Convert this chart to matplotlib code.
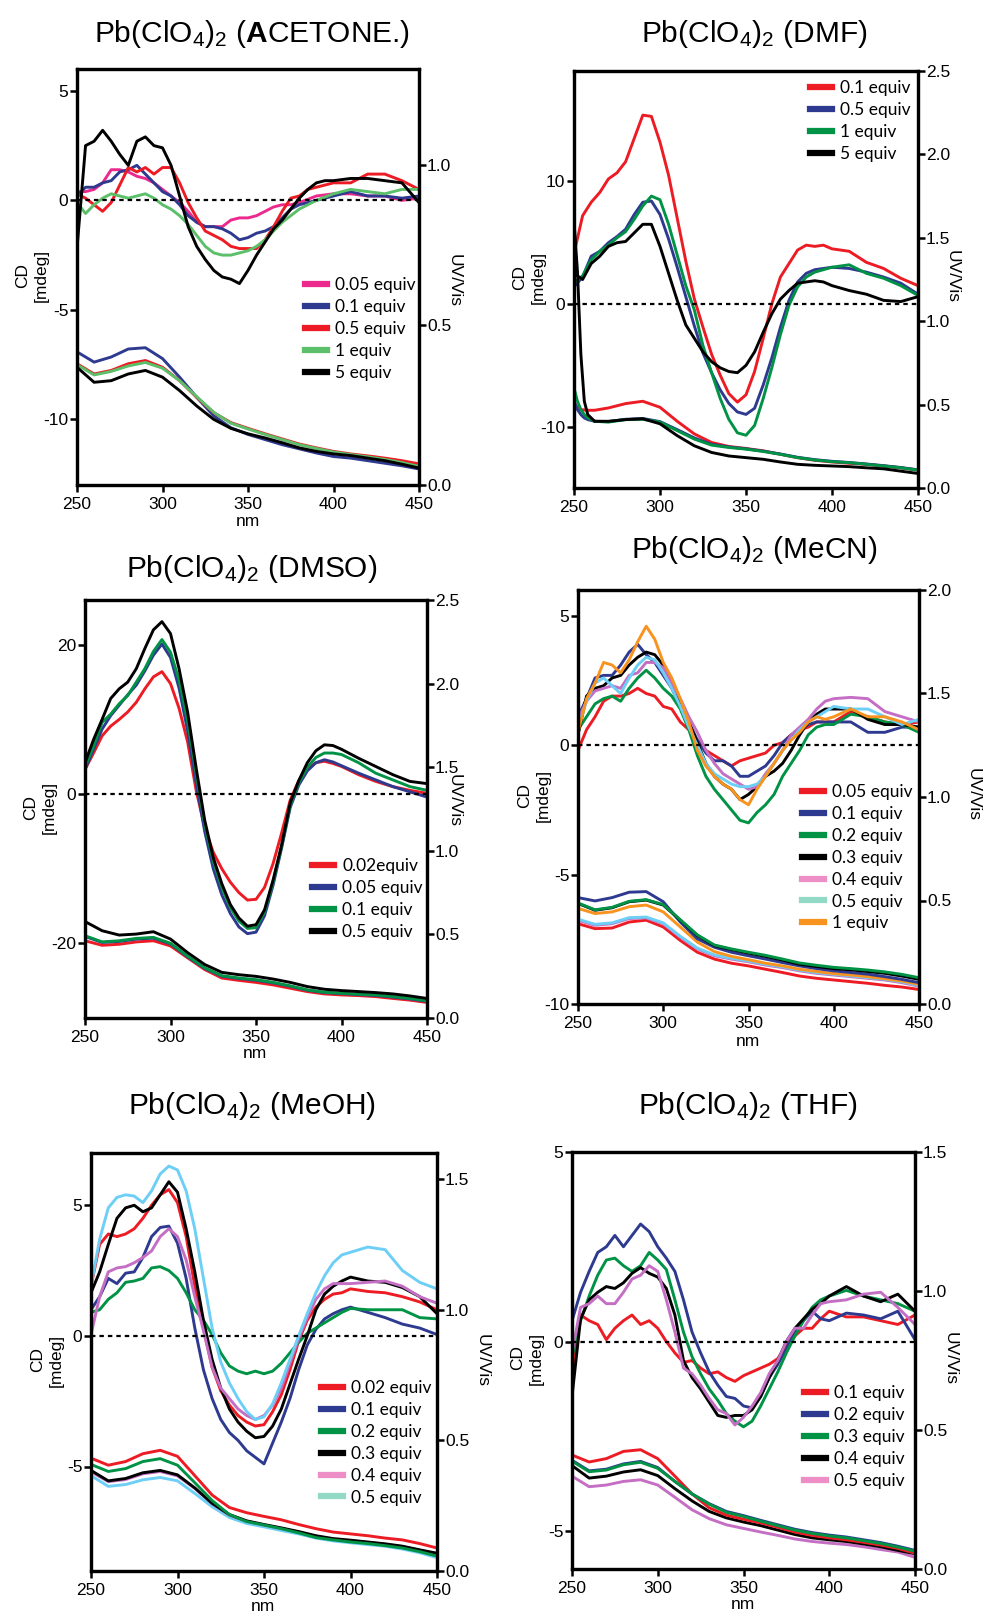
import matplotlib
matplotlib.use('Agg')
import matplotlib.pyplot as plt
from matplotlib.lines import Line2D
from matplotlib.ticker import FormatStrFormatter

plt.rcParams['font.family'] = ['Liberation Sans', 'DejaVu Sans']
plt.rcParams['mathtext.fontset'] = 'custom'
plt.rcParams['mathtext.rm'] = 'Liberation Sans'
plt.rcParams['mathtext.it'] = 'Liberation Sans'
plt.rcParams['mathtext.bf'] = 'Liberation Sans:bold'
plt.rcParams['axes.unicode_minus'] = False

# ---------------- wavelength grids ----------------
WL_CD = [250, 255, 260, 265, 270, 275, 280, 285, 290, 295,
         300, 305, 310, 315, 320, 325, 330, 335, 340, 345,
         350, 355, 360, 365, 370, 375, 380, 385, 390, 395, 400,
         410, 420, 430, 440, 450]
WL_UV = [250, 260, 270, 280, 290, 300, 310, 320, 330, 340, 350,
         360, 370, 380, 390, 400, 410, 420, 430, 440, 450]
WL_UV_DMF = [250, 252, 254, 256, 258, 262, 270, 280, 290, 300, 310, 320,
             330, 340, 350, 360, 370, 380, 390, 400, 410, 420, 430, 440, 450]
X_TICKS = [250, 300, 350, 400, 450]

# ---------------- ACETONE ----------------
ace_labels = ['0.05 equiv', '0.1 equiv', '0.5 equiv', '1 equiv', '5 equiv']
ace_cd_005 = [0.4, 0.4, 0.5, 0.8, 1.4, 1.4, 1.3, 1.1, 1.0, 0.8,
              0.5, 0.2, -0.1, -0.5, -1.0, -1.2, -1.2, -1.2, -0.9, -0.8,
              -0.8, -0.7, -0.5, -0.3, -0.2, -0.2, -0.1, 0.05, 0.2, 0.25, 0.3,
              0.3, 0.2, 0.2, 0.0, 0.1]
ace_cd_01 = [0.2, 0.6, 0.6, 0.8, 0.9, 1.3, 1.4, 1.6, 1.2, 0.8,
             0.4, 0.2, -0.2, -0.7, -1.0, -1.2, -1.2, -1.3, -1.5, -1.8,
             -1.7, -1.5, -1.4, -1.2, -0.8, -0.4, -0.2, -0.1, 0.0, 0.1, 0.2,
             0.4, 0.2, 0.2, 0.1, 0.2]
ace_cd_05 = [0.3, 0.1, -0.2, -0.5, -0.1, 0.7, 1.5, 1.3, 1.5, 1.2,
             1.5, 1.5, 0.8, -0.1, -0.8, -1.4, -1.6, -1.8, -2.1, -2.2,
             -2.2, -2.2, -1.8, -1.2, -0.5, 0.1, 0.2, 0.5, 0.6, 0.7, 0.8,
             0.8, 1.2, 1.2, 0.9, 0.5]
ace_cd_1 = [-0.1, -0.6, -0.2, 0.1, 0.3, 0.2, 0.1, 0.2, 0.3, 0.1,
            -0.2, -0.4, -0.7, -1.1, -1.6, -2.1, -2.4, -2.5, -2.5, -2.4,
            -2.3, -2.1, -1.8, -1.4, -1.0, -0.7, -0.4, -0.2, 0.0, 0.15, 0.3,
            0.5, 0.4, 0.3, 0.5, 0.5]
ace_cd_5 = [-2.2, 2.5, 2.7, 3.2, 2.7, 2.1, 1.6, 2.7, 2.9, 2.5,
            2.4, 1.6, 0.2, -1.2, -2.1, -2.7, -3.2, -3.5, -3.6, -3.8,
            -3.2, -2.5, -1.9, -1.3, -0.9, -0.4, 0.1, 0.5, 0.8, 0.9, 0.9,
            1.0, 1.0, 0.9, 0.8, -0.1]
ace_uv_01 = [0.416, 0.384, 0.40, 0.425, 0.429, 0.395, 0.337, 0.274, 0.216, 0.179, 0.158,
             0.142, 0.126, 0.113, 0.10, 0.089, 0.084, 0.076, 0.068, 0.06, 0.05]
ace_uv_05 = [0.379, 0.347, 0.358, 0.379, 0.389, 0.368, 0.326, 0.274, 0.226, 0.195, 0.177,
             0.16, 0.144, 0.128, 0.116, 0.105, 0.097, 0.091, 0.084, 0.076, 0.066]
ace_uv_1 = [0.376, 0.344, 0.355, 0.372, 0.383, 0.365, 0.326, 0.276, 0.227, 0.193, 0.175,
            0.158, 0.142, 0.126, 0.114, 0.103, 0.095, 0.088, 0.08, 0.07, 0.058]
ace_uv_5 = [0.368, 0.321, 0.326, 0.347, 0.358, 0.337, 0.295, 0.247, 0.205, 0.177, 0.16,
            0.147, 0.132, 0.116, 0.105, 0.097, 0.092, 0.084, 0.076, 0.065, 0.053]

# ---------------- DMF ----------------
dmf_labels = ['0.1 equiv', '0.5 equiv', '1 equiv', '5 equiv']
dmf_cd_01 = [4.1, 7.2, 8.3, 9.1, 10.2, 10.7, 11.6, 13.5, 15.4, 15.3,
             13.2, 10.5, 7.0, 3.5, 0.4, -1.9, -4.1, -5.8, -7.3, -8.0,
             -7.4, -5.5, -2.8, 0.0, 2.2, 3.3, 4.4, 4.8, 4.7, 4.8, 4.5,
             4.3, 3.4, 2.9, 2.1, 1.5]
dmf_cd_05 = [1.4, 2.2, 3.9, 4.3, 5.0, 5.5, 6.1, 7.3, 8.3, 8.4,
             7.3, 5.3, 3.0, 0.6, -1.8, -4.0, -5.6, -7.0, -8.1, -8.8,
             -9.0, -8.5, -6.6, -4.4, -1.9, 0.3, 1.8, 2.5, 2.8, 2.9, 3.0,
             2.9, 2.6, 2.2, 1.7, 0.8]
dmf_cd_1 = [1.7, 2.3, 3.6, 4.3, 4.8, 5.4, 5.9, 6.9, 8.0, 8.8,
            8.5, 6.5, 4.0, 1.5, -0.5, -3.4, -5.6, -7.7, -9.4, -10.5,
            -10.7, -9.9, -7.7, -5.2, -2.5, -0.1, 1.4, 2.2, 2.6, 2.8, 3.0,
            3.2, 2.5, 2.1, 1.5, 0.7]
dmf_cd_5 = [2.5, 2.0, 3.3, 3.9, 4.7, 5.0, 5.1, 5.8, 6.5, 6.5,
            4.7, 2.5, 0.3, -1.7, -2.8, -3.9, -4.7, -5.2, -5.5, -5.6,
            -5.0, -3.9, -2.3, -0.8, 0.4, 1.1, 1.7, 1.8, 1.9, 1.8, 1.5,
            1.1, 0.8, 0.3, 0.2, 0.6]
dmf_uv_01 = [0.516, 0.48, 0.47, 0.468, 0.466, 0.466, 0.48, 0.506, 0.52, 0.484, 0.40, 0.324,
             0.273, 0.249, 0.237, 0.223, 0.202, 0.182, 0.166, 0.156, 0.148, 0.142, 0.132, 0.121, 0.107]
dmf_uv_05 = [0.52, 0.47, 0.44, 0.42, 0.41, 0.40, 0.398, 0.412, 0.417, 0.398, 0.35, 0.30,
             0.262, 0.246, 0.235, 0.221, 0.204, 0.184, 0.17, 0.16, 0.153, 0.144, 0.134, 0.123, 0.109]
dmf_uv_1 = [0.60, 0.52, 0.47, 0.44, 0.42, 0.40, 0.395, 0.41, 0.412, 0.395, 0.344, 0.293,
            0.257, 0.243, 0.233, 0.219, 0.202, 0.182, 0.168, 0.158, 0.152, 0.142, 0.132, 0.121, 0.107]
dmf_uv_5 = [1.60, 1.30, 0.80, 0.52, 0.44, 0.40, 0.40, 0.41, 0.415, 0.385, 0.314, 0.253,
            0.213, 0.192, 0.182, 0.172, 0.156, 0.142, 0.136, 0.132, 0.128, 0.121, 0.115, 0.101, 0.087]

# ---------------- DMSO ----------------
dmso_labels = ['0.02equiv', '0.05 equiv', '0.1 equiv', '0.5 equiv']
dmso_cd_002 = [3.3, 5.5, 7.8, 9.1, 10.0, 11.0, 12.3, 14.1, 15.7, 16.4,
               14.8, 11.5, 7.0, 0.5, -4.5, -7.8, -10.0, -11.8, -13.2, -14.2,
               -14.1, -12.5, -9.3, -5.2, -0.8, 1.8, 3.4, 4.2, 4.4, 4.1, 3.7,
               2.6, 1.7, 1.0, 0.5, 0.1]
dmso_cd_005 = [3.3, 6.0, 8.7, 10.5, 11.9, 13.3, 14.6, 16.5, 18.6, 20.1,
               18.3, 14.2, 8.5, 1.5, -5.0, -10.0, -13.5, -16.0, -17.8, -18.7,
               -18.5, -16.3, -12.2, -7.2, -1.8, 1.2, 3.1, 4.2, 4.6, 4.3, 3.8,
               2.8, 1.9, 1.0, 0.3, -0.4]
dmso_cd_01 = [3.7, 6.4, 9.6, 10.7, 12.1, 13.2, 15.0, 16.8, 19.1, 20.7,
              19.0, 15.3, 9.8, 2.8, -4.0, -9.0, -12.5, -15.2, -17.0, -18.0,
              -17.9, -15.8, -11.8, -7.0, -1.5, 1.5, 3.6, 4.9, 5.5, 5.5, 5.3,
              4.2, 2.8, 1.9, 1.0, 0.5]
dmso_cd_05 = [4.2, 7.3, 10.0, 12.8, 14.1, 15.0, 16.8, 19.5, 22.0, 23.1,
              21.5, 16.8, 11.0, 3.5, -3.5, -8.5, -12.0, -14.8, -16.6, -17.7,
              -17.5, -15.5, -11.5, -6.8, -1.2, 1.8, 4.2, 5.8, 6.6, 6.5, 6.0,
              4.8, 3.7, 2.6, 1.7, 1.4]
dmso_uv_002 = [0.462, 0.435, 0.441, 0.455, 0.462, 0.431, 0.36, 0.29, 0.239, 0.225, 0.213,
               0.198, 0.178, 0.158, 0.144, 0.138, 0.134, 0.128, 0.117, 0.107, 0.093]
dmso_uv_005 = [0.488, 0.452, 0.458, 0.472, 0.478, 0.443, 0.366, 0.297, 0.25, 0.236, 0.226,
               0.21, 0.19, 0.166, 0.152, 0.146, 0.14, 0.135, 0.125, 0.114, 0.10]
dmso_uv_01 = [0.492, 0.455, 0.462, 0.476, 0.482, 0.447, 0.37, 0.30, 0.253, 0.239, 0.229,
              0.213, 0.192, 0.168, 0.154, 0.148, 0.142, 0.138, 0.128, 0.117, 0.103]
dmso_uv_05 = [0.577, 0.522, 0.496, 0.502, 0.516, 0.472, 0.391, 0.32, 0.273, 0.259, 0.249,
              0.233, 0.213, 0.188, 0.172, 0.164, 0.158, 0.152, 0.144, 0.132, 0.117]

# ---------------- MeCN ----------------
mecn_labels = ['0.05 equiv', '0.1 equiv', '0.2 equiv', '0.3 equiv', '0.4 equiv', '0.5 equiv', '1 equiv']
mecn_cd_005 = [-0.2, 0.6, 1.1, 1.7, 1.9, 1.9, 2.0, 2.2, 2.0, 1.9,
               1.5, 1.4, 0.9, 0.6, 0.2, -0.2, -0.4, -0.6, -0.8, -0.6,
               -0.5, -0.4, -0.3, 0.0, 0.1, 0.4, 0.6, 0.7, 0.9, 0.9, 0.9,
               1.3, 1.1, 0.9, 0.8, 0.9]
mecn_cd_01 = [1.1, 1.8, 2.6, 2.7, 2.7, 3.1, 3.6, 3.9, 3.5, 3.2,
              2.7, 2.2, 1.5, 0.9, 0.2, -0.3, -0.6, -0.6, -0.8, -1.2,
              -1.2, -1.0, -0.8, -0.4, 0.1, 0.4, 0.6, 0.8, 0.9, 0.9, 0.9,
              0.9, 0.5, 0.5, 0.7, 0.7]
mecn_cd_02 = [0.6, 1.1, 1.6, 1.8, 1.9, 1.7, 2.2, 2.6, 2.9, 2.6,
              2.2, 1.9, 1.4, 0.6, -0.4, -1.2, -1.7, -2.1, -2.5, -2.9,
              -3.0, -2.6, -2.3, -1.9, -1.2, -0.7, -0.2, 0.4, 0.7, 0.8, 0.8,
              1.2, 1.1, 0.9, 0.8, 0.5]
mecn_cd_03 = [0.4, 1.9, 2.2, 2.3, 2.6, 2.7, 3.1, 3.4, 3.6, 3.5,
              3.1, 2.5, 1.7, 0.9, 0.1, -0.7, -1.2, -1.5, -1.7, -2.1,
              -1.9, -1.6, -1.2, -1.0, -0.7, -0.2, 0.4, 0.9, 1.2, 1.4, 1.4,
              1.4, 1.0, 0.8, 0.8, 0.7]
mecn_cd_04 = [1.0, 1.7, 2.1, 2.2, 2.3, 2.2, 2.7, 2.8, 3.2, 3.2,
              3.0, 2.4, 1.8, 1.1, 0.5, -0.2, -0.7, -1.1, -1.3, -1.5,
              -1.7, -1.6, -1.1, -0.7, -0.2, 0.4, 0.7, 1.0, 1.4, 1.7, 1.8,
              1.85, 1.8, 1.3, 1.1, 0.9]
mecn_cd_05 = [0.7, 1.7, 2.4, 2.6, 2.3, 2.0, 2.6, 3.1, 3.4, 3.3,
              2.8, 2.2, 1.5, 0.7, 0.0, -0.7, -1.1, -1.3, -1.5, -1.6,
              -1.6, -1.5, -1.2, -0.7, -0.2, 0.2, 0.6, 0.9, 1.1, 1.3, 1.5,
              1.4, 1.4, 1.1, 0.8, 1.0]
mecn_cd_1 = [0.5, 1.8, 2.4, 3.2, 3.1, 2.8, 3.3, 4.0, 4.6, 4.1,
             3.2, 2.6, 1.8, 0.9, -0.2, -0.8, -1.2, -1.5, -1.7, -2.1,
             -2.3, -1.7, -1.2, -0.7, -0.2, 0.2, 0.5, 0.9, 1.1, 1.0, 1.1,
             1.4, 1.1, 1.1, 0.9, 0.6]
mecn_uv_005 = [0.388, 0.364, 0.367, 0.396, 0.405, 0.372, 0.307, 0.25, 0.217, 0.197, 0.184,
               0.168, 0.152, 0.135, 0.124, 0.116, 0.108, 0.10, 0.09, 0.082, 0.07]
mecn_uv_01 = [0.514, 0.498, 0.514, 0.54, 0.543, 0.494, 0.396, 0.315, 0.274, 0.25, 0.233,
              0.217, 0.20, 0.184, 0.171, 0.16, 0.152, 0.144, 0.132, 0.119, 0.103]
mecn_uv_02 = [0.488, 0.455, 0.467, 0.496, 0.504, 0.48, 0.407, 0.334, 0.285, 0.266, 0.25,
              0.235, 0.217, 0.198, 0.187, 0.177, 0.171, 0.164, 0.155, 0.143, 0.127]
mecn_uv_03 = [0.486, 0.453, 0.465, 0.494, 0.502, 0.478, 0.405, 0.331, 0.282, 0.263, 0.246,
              0.23, 0.212, 0.192, 0.181, 0.171, 0.165, 0.157, 0.148, 0.135, 0.119]
mecn_uv_04 = [0.405, 0.38, 0.388, 0.413, 0.416, 0.388, 0.323, 0.266, 0.233, 0.217, 0.204,
              0.188, 0.176, 0.16, 0.148, 0.14, 0.132, 0.124, 0.116, 0.103, 0.086]
mecn_uv_05 = [0.41, 0.385, 0.392, 0.417, 0.42, 0.392, 0.327, 0.27, 0.237, 0.221, 0.208,
              0.192, 0.18, 0.164, 0.152, 0.144, 0.136, 0.128, 0.12, 0.107, 0.09]
mecn_uv_1 = [0.462, 0.437, 0.445, 0.47, 0.478, 0.445, 0.372, 0.299, 0.253, 0.23, 0.214,
             0.197, 0.184, 0.168, 0.157, 0.147, 0.14, 0.132, 0.122, 0.111, 0.095]

# ---------------- MeOH ----------------
meoh_labels = ['0.02 equiv', '0.1 equiv', '0.2 equiv', '0.3 equiv', '0.4 equiv', '0.5 equiv']
meoh_cd_002 = [1.9, 3.5, 3.9, 3.8, 3.9, 4.1, 4.5, 5.0, 5.4, 5.6,
               5.1, 3.8, 1.9, 0.3, -1.2, -2.1, -2.65, -3.05, -3.3, -3.45,
               -3.4, -2.9, -2.25, -1.3, -0.2, 0.6, 1.1, 1.4, 1.6, 1.65, 1.8,
               1.7, 1.65, 1.5, 1.3, 1.0]
meoh_cd_01 = [1.0, 1.5, 2.2, 2.0, 2.4, 2.45, 3.0, 3.8, 4.15, 4.2,
              3.55, 2.2, 0.3, -1.3, -2.4, -3.2, -3.7, -4.0, -4.4, -4.65,
              -4.9, -4.1, -3.3, -2.4, -1.3, -0.35, 0.25, 0.65, 0.85, 1.0, 1.1,
              0.9, 0.7, 0.45, 0.3, 0.05]
meoh_cd_02 = [0.9, 1.0, 1.4, 1.65, 2.05, 2.1, 2.2, 2.6, 2.65, 2.5,
              2.2, 1.65, 1.0, 0.6, 0.05, -0.65, -1.15, -1.35, -1.45, -1.35,
              -1.45, -1.35, -1.05, -0.65, -0.25, 0.1, 0.3, 0.5, 0.7, 0.9, 1.05,
              1.0, 1.0, 1.0, 0.7, 0.65]
meoh_cd_03 = [1.65, 2.45, 3.5, 4.5, 4.9, 5.0, 4.75, 4.9, 5.4, 5.9,
              5.5, 4.1, 2.45, 0.6, -0.9, -2.0, -2.8, -3.3, -3.65, -3.9,
              -3.85, -3.45, -2.8, -1.85, -0.9, 0.0, 1.0, 1.6, 1.9, 2.1, 2.25,
              2.1, 2.05, 1.85, 1.5, 0.85]
meoh_cd_04 = [0.05, 1.5, 2.45, 2.6, 2.65, 2.8, 3.0, 3.25, 3.8, 4.1,
              3.8, 2.9, 1.5, 0.2, -1.2, -2.0, -2.4, -2.8, -3.05, -3.2,
              -3.05, -2.65, -2.0, -1.05, -0.1, 0.7, 1.4, 1.8, 2.0, 2.0, 2.0,
              2.05, 2.1, 1.9, 1.5, 1.25]
meoh_cd_05 = [1.9, 3.7, 4.9, 5.3, 5.4, 5.35, 5.1, 5.55, 6.2, 6.5,
              6.35, 5.55, 4.1, 2.2, 0.3, -1.0, -1.8, -2.4, -2.9, -3.2,
              -3.1, -2.6, -1.8, -0.9, 0.0, 0.85, 1.65, 2.3, 2.8, 3.1, 3.2,
              3.4, 3.3, 2.5, 2.05, 1.8]
meoh_uv_002 = [0.432, 0.405, 0.419, 0.449, 0.462, 0.439, 0.365, 0.291, 0.243, 0.223, 0.209,
               0.196, 0.178, 0.162, 0.149, 0.142, 0.135, 0.126, 0.119, 0.105, 0.088]
meoh_uv_02 = [0.408, 0.381, 0.392, 0.419, 0.43, 0.405, 0.338, 0.27, 0.216, 0.189, 0.176,
              0.162, 0.146, 0.128, 0.119, 0.111, 0.105, 0.097, 0.088, 0.074, 0.057]
meoh_uv_03 = [0.385, 0.345, 0.354, 0.376, 0.385, 0.368, 0.318, 0.259, 0.216, 0.192, 0.178,
              0.165, 0.151, 0.135, 0.124, 0.118, 0.111, 0.104, 0.095, 0.081, 0.068]
meoh_uv_04 = [0.38, 0.342, 0.35, 0.372, 0.381, 0.364, 0.316, 0.258, 0.214, 0.19, 0.176,
              0.163, 0.149, 0.133, 0.122, 0.116, 0.109, 0.102, 0.093, 0.079, 0.064]
meoh_uv_05 = [0.365, 0.324, 0.331, 0.349, 0.358, 0.345, 0.297, 0.246, 0.205, 0.182, 0.169,
              0.155, 0.142, 0.126, 0.115, 0.108, 0.101, 0.095, 0.084, 0.07, 0.051]

# ---------------- THF ----------------
thf_labels = ['0.1 equiv', '0.2 equiv', '0.3 equiv', '0.4 equiv', '0.5 equiv']
thf_cd_01 = [-0.85, 0.7, 0.55, 0.45, 0.05, 0.35, 0.55, 0.7, 0.45, 0.55,
             0.35, 0.0, -0.3, -0.55, -0.5, -0.7, -0.85, -0.8, -0.95, -1.05,
             -0.9, -0.8, -0.7, -0.6, -0.45, -0.1, 0.15, 0.35, 0.35, 0.6, 0.8,
             0.65, 0.65, 0.55, 0.45, 0.7]
thf_cd_02 = [0.55, 1.3, 1.85, 2.35, 2.5, 2.8, 2.5, 2.8, 3.1, 2.9,
             2.5, 2.2, 1.85, 1.1, 0.25, -0.3, -0.8, -1.15, -1.45, -1.5,
             -1.7, -1.75, -1.45, -0.95, -0.6, -0.2, 0.25, 0.55, 0.8, 0.6, 0.55,
             0.75, 0.7, 0.6, 0.8, 0.05]
thf_cd_03 = [-0.4, 0.55, 1.2, 1.75, 2.15, 2.2, 2.0, 1.85, 2.0, 2.35,
             2.15, 1.9, 1.1, 0.25, -0.4, -0.85, -1.25, -1.55, -1.9, -2.1,
             -2.25, -2.1, -1.7, -1.25, -0.8, -0.3, 0.15, 0.55, 0.9, 1.1, 1.2,
             1.35, 1.2, 1.1, 1.0, 0.8]
thf_cd_04 = [-1.45, 0.6, 1.1, 1.3, 1.45, 1.4, 1.55, 1.8, 1.95, 1.8,
             1.7, 1.4, 0.7, -0.5, -0.95, -1.25, -1.6, -1.95, -2.0, -1.95,
             -1.95, -1.8, -1.45, -0.95, -0.5, 0.0, 0.35, 0.6, 0.85, 1.0, 1.2,
             1.45, 1.2, 1.05, 1.25, 0.8]
thf_cd_05 = [-0.3, 0.9, 1.0, 1.2, 1.0, 1.0, 1.3, 1.65, 1.75, 2.0,
             1.85, 1.1, 0.25, -0.7, -0.85, -1.15, -1.5, -1.8, -1.9, -2.2,
             -2.0, -1.7, -1.35, -0.85, -0.5, 0.0, 0.35, 0.35, 0.7, 1.0, 1.05,
             1.1, 1.25, 1.3, 0.9, 0.45]
thf_uv_01 = [0.41, 0.385, 0.397, 0.423, 0.429, 0.397, 0.334, 0.27, 0.22, 0.194, 0.179,
             0.166, 0.15, 0.133, 0.121, 0.112, 0.105, 0.096, 0.086, 0.074, 0.057]
thf_uv_02 = [0.391, 0.353, 0.359, 0.378, 0.387, 0.365, 0.315, 0.27, 0.235, 0.207, 0.192,
             0.175, 0.159, 0.143, 0.131, 0.122, 0.115, 0.105, 0.095, 0.082, 0.067]
thf_uv_03 = [0.388, 0.35, 0.356, 0.375, 0.384, 0.362, 0.315, 0.27, 0.233, 0.204, 0.189,
             0.172, 0.156, 0.14, 0.128, 0.119, 0.112, 0.102, 0.092, 0.079, 0.064]
thf_uv_04 = [0.372, 0.327, 0.334, 0.349, 0.357, 0.336, 0.289, 0.245, 0.207, 0.184, 0.169,
             0.156, 0.14, 0.124, 0.112, 0.105, 0.099, 0.09, 0.08, 0.067, 0.055]
thf_uv_05 = [0.334, 0.296, 0.302, 0.315, 0.321, 0.302, 0.258, 0.213, 0.181, 0.159, 0.146,
             0.133, 0.121, 0.108, 0.099, 0.093, 0.088, 0.08, 0.07, 0.061, 0.042]

# ---------------- colours ----------------
RED = '#ed1c24'
BLUE = '#2e3a8f'
GREEN = '#009245'
LGREEN = '#5cbf6a'
PINK = '#ec2a8e'
BLACK = '#000000'
ORANGE = '#f7931e'
PURPLE = '#c46fc4'
PURPLE_LEG = '#ee8ec6'
LBLUE = '#6dcff6'
LBLUE_LEG = '#92d9c6'

W, H = 989, 1613
fig = plt.figure(figsize=(W / 100, H / 100), dpi=100)


def panel(box, cd_ylim, cd_ticks, uv_ylim, uv_ticks, cd_list, uv_list,
          labels, leg_colors, leg_xy, title, title_xy, cd_lab_xy, uv_lab_xy, nm_xy):
    l, r, t, b = box
    ax = fig.add_axes([l / W, 1 - b / H, (r - l) / W, (b - t) / H])
    ax2 = ax.twinx()
    for vals, c in cd_list:
        ax.plot(WL_CD, vals, color=c, lw=2.1, solid_joinstyle='round')
    for xs, vals, c in uv_list:
        ax2.plot(xs, vals, color=c, lw=2.1, solid_joinstyle='round')
    ax.axhline(0, color='black', lw=1.6, ls=(0, (2.0, 1.8)))
    ax.set_xlim(250, 450)
    ax.set_ylim(*cd_ylim)
    ax.set_yticks(cd_ticks)
    ax.set_xticks(X_TICKS)
    ax2.set_ylim(*uv_ylim)
    ax2.set_yticks(uv_ticks)
    ax2.yaxis.set_major_formatter(FormatStrFormatter('%.1f'))
    for a in (ax, ax2):
        for s in a.spines.values():
            s.set_linewidth(2.3)
    ax.tick_params(axis='x', direction='out', length=5, width=1.8,
                   labelsize=12.5, pad=3.5)
    ax.tick_params(axis='y', direction='out', length=5, width=1.8,
                   labelsize=12.5, pad=1.2)
    ax2.tick_params(axis='y', direction='out', length=5, width=1.8,
                    labelsize=12.5, pad=0.8)
    handles = [Line2D([], [], color=c, lw=4.5) for c in leg_colors]
    ax2.legend(handles, labels, loc='upper left',
               bbox_to_anchor=(leg_xy[0] / W, 1 - leg_xy[1] / H),
               bbox_transform=fig.transFigure, frameon=False,
               prop={'family': 'Lato', 'size': 12.5}, handlelength=1.25,
               handletextpad=0.5, labelspacing=0.34, borderpad=0,
               borderaxespad=0)
    fig.text(title_xy[0] / W, 1 - title_xy[1] / H, title, fontsize=21.5,
             ha='center', va='center')
    fig.text(cd_lab_xy[0] / W, 1 - cd_lab_xy[1] / H, 'CD\n[mdeg]', rotation=90,
             fontsize=12.5, ha='center', va='center', linespacing=1.3)
    fig.text(uv_lab_xy[0] / W, 1 - uv_lab_xy[1] / H, 'UV/Vis', rotation=270,
             fontsize=12.5, ha='center', va='center')
    if nm_xy is not None:
        fig.text(nm_xy[0] / W, 1 - nm_xy[1] / H, 'nm', fontsize=12.5,
                 ha='center', va='top')


panel((77, 419, 69, 485), (-13, 6), [-10, -5, 0, 5], (0, 1.3), [0.0, 0.5, 1.0],
      [(ace_cd_005, PINK), (ace_cd_01, BLUE), (ace_cd_05, RED), (ace_cd_1, LGREEN), (ace_cd_5, BLACK)],
      [(WL_UV, ace_uv_01, BLUE), (WL_UV, ace_uv_05, RED), (WL_UV, ace_uv_1, LGREEN), (WL_UV, ace_uv_5, BLACK)],
      ace_labels, [PINK, BLUE, RED, LGREEN, BLACK], (305, 277),
      r'Pb(ClO$_4$)$_2$ ($\mathbf{A}$CETONE.)', (252, 34), (32, 275), (454, 280), (248, 514))

panel((574, 918, 71, 488), (-15, 19), [-10, 0, 10], (0, 2.5), [0.0, 0.5, 1.0, 1.5, 2.0, 2.5],
      [(dmf_cd_01, RED), (dmf_cd_05, BLUE), (dmf_cd_1, GREEN), (dmf_cd_5, BLACK)],
      [(WL_UV_DMF, dmf_uv_01, RED), (WL_UV_DMF, dmf_uv_05, BLUE), (WL_UV_DMF, dmf_uv_1, GREEN),
       (WL_UV_DMF, dmf_uv_5, BLACK)],
      dmf_labels, [RED, BLUE, GREEN, BLACK], (810, 80),
      r'Pb(ClO$_4$)$_2$ (DMF)', (754, 34), (529, 277), (952, 277), None)

panel((85, 427, 600, 1018), (-30, 26), [-20, 0, 20], (0, 2.5), [0.0, 0.5, 1.0, 1.5, 2.0, 2.5],
      [(dmso_cd_002, RED), (dmso_cd_005, BLUE), (dmso_cd_01, GREEN), (dmso_cd_05, BLACK)],
      [(WL_UV, dmso_uv_002, RED), (WL_UV, dmso_uv_005, BLUE), (WL_UV, dmso_uv_01, GREEN),
       (WL_UV, dmso_uv_05, BLACK)],
      dmso_labels, [RED, BLUE, GREEN, BLACK], (312, 858),
      r'Pb(ClO$_4$)$_2$ (DMSO)', (252, 569), (40, 807), (454, 801), (255, 1046))

panel((578, 919, 590, 1004), (-10, 6), [-10, -5, 0, 5], (0, 2.0), [0.0, 0.5, 1.0, 1.5, 2.0],
      [(mecn_cd_005, RED), (mecn_cd_01, BLUE), (mecn_cd_02, GREEN), (mecn_cd_03, BLACK),
       (mecn_cd_04, PURPLE), (mecn_cd_05, LBLUE), (mecn_cd_1, ORANGE)],
      [(WL_UV, mecn_uv_005, RED), (WL_UV, mecn_uv_04, PURPLE), (WL_UV, mecn_uv_05, LBLUE),
       (WL_UV, mecn_uv_1, ORANGE), (WL_UV, mecn_uv_01, BLUE), (WL_UV, mecn_uv_03, BLACK),
       (WL_UV, mecn_uv_02, GREEN)],
      mecn_labels, [RED, BLUE, GREEN, BLACK, PURPLE_LEG, LBLUE_LEG, ORANGE], (802, 784),
      r'Pb(ClO$_4$)$_2$ (MeCN)', (754, 550), (534, 795), (973, 795), (748, 1034))

panel((91, 437, 1153, 1571), (-9, 7), [-5, 0, 5], (0, 1.6), [0.0, 0.5, 1.0, 1.5],
      [(meoh_cd_002, RED), (meoh_cd_01, BLUE), (meoh_cd_02, GREEN), (meoh_cd_03, BLACK),
       (meoh_cd_04, PURPLE), (meoh_cd_05, LBLUE)],
      [(WL_UV, meoh_uv_05, LBLUE), (WL_UV, meoh_uv_04, PURPLE), (WL_UV, meoh_uv_03, BLACK),
       (WL_UV, meoh_uv_02, GREEN), (WL_UV, meoh_uv_002, RED)],
      meoh_labels, [RED, BLUE, GREEN, BLACK, PURPLE_LEG, LBLUE_LEG], (321, 1380),
      r'Pb(ClO$_4$)$_2$ (MeOH)', (252, 1106), (47, 1360), (482, 1360), (263, 1599))

panel((572, 915, 1152, 1569), (-6, 5), [-5, 0, 5], (0, 1.5), [0.0, 0.5, 1.0, 1.5],
      [(thf_cd_01, RED), (thf_cd_02, BLUE), (thf_cd_03, GREEN), (thf_cd_04, BLACK), (thf_cd_05, PURPLE)],
      [(WL_UV, thf_uv_05, PURPLE), (WL_UV, thf_uv_04, BLACK), (WL_UV, thf_uv_01, RED),
       (WL_UV, thf_uv_02, BLUE), (WL_UV, thf_uv_03, GREEN)],
      thf_labels, [RED, BLUE, GREEN, BLACK, PURPLE_LEG], (804, 1385),
      r'Pb(ClO$_4$)$_2$ (THF)', (748, 1106), (527, 1358), (950, 1358), (743, 1597))

fig.savefig('out.png', dpi=100)
